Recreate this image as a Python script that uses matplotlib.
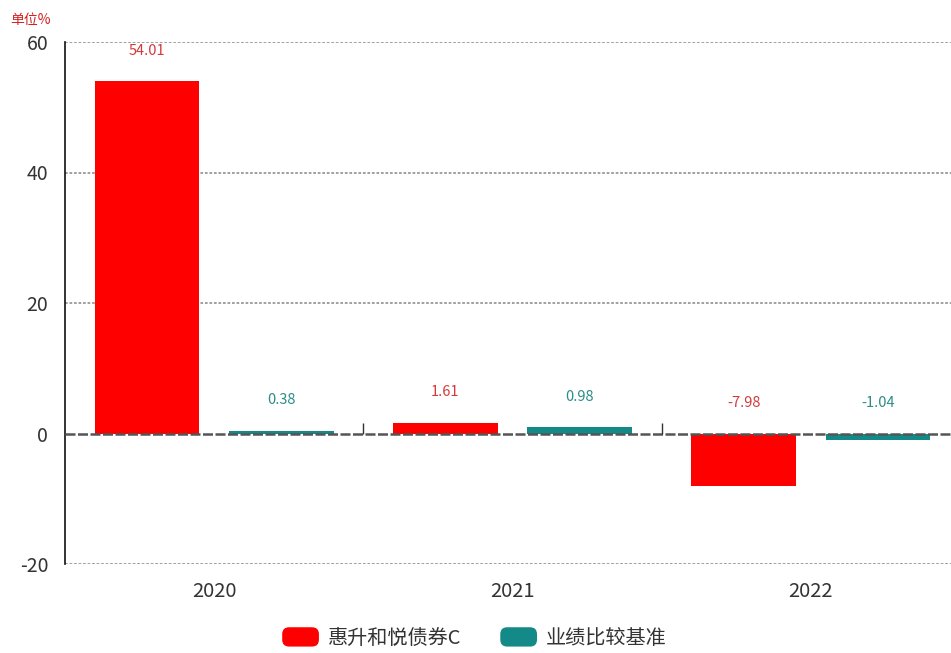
import matplotlib
matplotlib.use("Agg")
import matplotlib.pyplot as plt
import numpy as np
from matplotlib.patches import FancyBboxPatch, Patch
from matplotlib.legend_handler import HandlerPatch

plt.rcParams['font.family'] = ['Noto Sans CJK SC', 'DejaVu Sans']

years = ['2020', '2021', '2022']
fund_name = '惠升和悦债券C'
bench_name = '业绩比较基准'
fund = [54.01, 1.61, -7.98]
bench = [0.38, 0.98, -1.04]
yticks = [-20, 0, 20, 40, 60]

RED = '#ff0000'
TEAL = '#138a87'
RED_TXT = '#d43a3a'
TEAL_TXT = '#2b8c8a'

fig = plt.figure(figsize=(9.51, 6.53), dpi=100)
W, H = 951, 653
left, right, top, bottom = 65, 960, 42, 564
ax = fig.add_axes([left / W, 1 - bottom / H, (right - left) / W, (bottom - top) / H])

x = np.arange(len(years))
bw = 0.35
off = 0.225
ax.bar(x - off, fund, bw, color=RED, zorder=3)
ax.bar(x + off, bench, bw, color=TEAL, zorder=3)

ax.set_ylim(-20, 60)
ax.set_xlim(-0.5, 2.5)
ax.set_yticks(yticks)
ax.set_yticklabels([str(t) for t in yticks], fontsize=14, color='#333333')
ax.tick_params(axis='y', length=0, pad=12)
ax.set_xticks(x)
ax.set_xticklabels(years, fontsize=14.5, color='#333333')
ax.tick_params(axis='x', length=0, pad=12)

for t in yticks:
    if t != 0:
        ax.axhline(t, color='#999999', lw=1.3, ls=(0, (1.5, 1)), zorder=1)
ax.axhline(0, color='#555555', lw=1.8, ls=(0, (4, 1)), zorder=4)
ax.vlines(x[:-1] + 0.5, 0, 1.6, color='#333333', lw=1, zorder=4)

for s in ['top', 'right', 'bottom']:
    ax.spines[s].set_visible(False)
ax.spines['left'].set_color('#111111')
ax.spines['left'].set_linewidth(1.2)

for xi, v in zip(x - off, fund):
    ax.annotate(f'{v:.2f}', (xi, max(v, 0)), xytext=(0, 22), textcoords='offset points',
                ha='center', va='center', fontsize=10.5, color=RED_TXT)
for xi, v in zip(x + off, bench):
    ax.annotate(f'{v:.2f}', (xi, max(v, 0)), xytext=(0, 22), textcoords='offset points',
                ha='center', va='center', fontsize=10.5, color=TEAL_TXT)

fig.text(10 / W, 1 - 20 / H, '单位%', color='#d42020', fontsize=10, ha='left', va='center')


class RoundHandler(HandlerPatch):
    def create_artists(self, legend, orig_handle, xdescent, ydescent, width, height, fontsize, trans):
        p = FancyBboxPatch((-xdescent + 2, -ydescent), width - 4, height,
                           boxstyle='round,pad=0,rounding_size=5',
                           facecolor=orig_handle.get_facecolor(), edgecolor='none')
        p.set_transform(trans)
        return [p]


handles = [Patch(facecolor=RED), Patch(facecolor=TEAL)]
fig.legend(handles, [fund_name, bench_name], loc='center', bbox_to_anchor=(473 / W, 1 - 638 / H),
           ncol=2, frameon=False, fontsize=14.5, handlelength=2.1, handleheight=1.1,
           handletextpad=0.3, columnspacing=1.8,
           handler_map={Patch: RoundHandler()}, labelcolor='#333333')

fig.savefig('out.png', dpi=100)
